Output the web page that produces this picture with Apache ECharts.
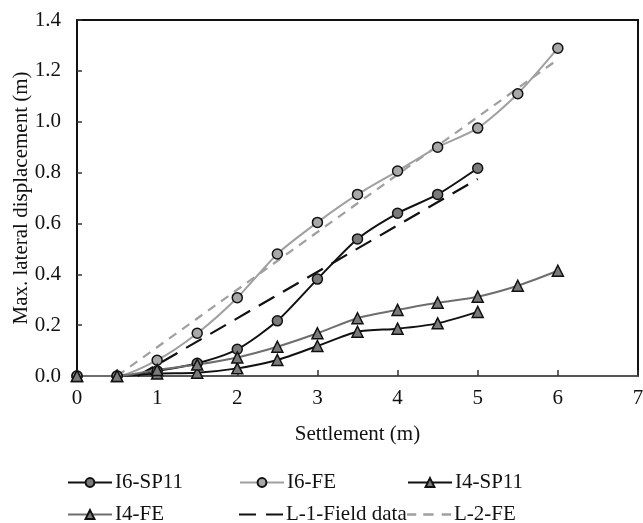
<!DOCTYPE html>
<html>
<head>
<meta charset="utf-8">
<script src="https://cdn.jsdelivr.net/npm/echarts@6/dist/echarts.min.js"></script>
<style>
  html, body { margin: 0; padding: 0; background: #fff; }
  #chart { width: 643px; height: 523px; }
</style>
</head>
<body>
<div id="chart"></div>
<script>
// Settlement values (m)
const settlementShort = [0, 0.5, 1, 1.5, 2, 2.5, 3, 3.5, 4, 4.5, 5];
const settlementLong = [0, 0.5, 1, 1.5, 2, 2.5, 3, 3.5, 4, 4.5, 5, 5.5, 6];

// Max. lateral displacement (m)
const i6Sp11 = [0, 0, 0.02, 0.05, 0.105, 0.217, 0.381, 0.539, 0.64, 0.714, 0.817];
const i6Fe = [0, 0, 0.062, 0.168, 0.308, 0.48, 0.604, 0.714, 0.806, 0.9, 0.975, 1.11, 1.289];
const i4Sp11 = [0, 0, 0.01, 0.013, 0.03, 0.063, 0.118, 0.174, 0.186, 0.207, 0.252];
const i4Fe = [0, 0, 0.024, 0.045, 0.073, 0.115, 0.168, 0.227, 0.26, 0.288, 0.312, 0.355, 0.414];

// Linear trend lines: [settlement, displacement] end points
const l1Field = [[0.757, 0], [5, 0.775]];
const l2Fe = [[0.5, 0], [6, 1.245]];

const seriesNames = ['I6-SP11', 'I6-FE', 'I4-SP11', 'I4-FE', 'L-1-Field data', 'L-2-FE'];

const FONT = 'Liberation Serif';
const pair = (xs, ys) => xs.map((x, i) => [x, ys[i]]);

function markerSeries(name, xs, ys, lineColor, fill, symbol) {
  return {
    name: name,
    type: 'line',
    data: pair(xs, ys),
    smooth: 0.25,
    symbol: symbol,
    symbolSize: symbol === 'circle' ? 10 : 11,
    lineStyle: { color: lineColor, width: 2 },
    itemStyle: { color: fill, borderColor: '#111', borderWidth: 1.5 },
    emphasis: { disabled: true },
    z: 3
  };
}

function trendSeries(name, pts, color, dash) {
  return {
    name: name,
    type: 'line',
    data: pts,
    symbol: 'none',
    lineStyle: { color: color, width: 2.2, type: dash },
    itemStyle: { color: color },
    emphasis: { disabled: true },
    z: 2
  };
}

// Legend icons for the dashed trend lines
const dashIcons = {
  'L-1-Field data': 'path://M0,0h17v2h-17z M27,0h17v2h-17z',
  'L-2-FE': 'path://M0,0h8v2h-8z M14,0h9v2h-9z M30,0h8v2h-8z'
};

// One legend block per entry, laid out in a 3 x 2 arrangement
const legendSlots = [
  { left: 62, top: 467 }, { left: 234, top: 467 }, { left: 402, top: 467 },
  { left: 62, top: 499 }, { left: 234, top: 499 }, { left: 402, top: 499 }
];
const legends = seriesNames.map((n, i) => {
  const icon = dashIcons[n];
  return {
    data: [icon ? { name: n, icon: icon } : n],
    left: legendSlots[i].left,
    top: legendSlots[i].top,
    itemWidth: 44,
    itemHeight: icon ? 2.5 : 11,
    itemGap: 0,
    textStyle: { fontFamily: FONT, fontSize: 21, color: '#111', padding: [0, 0, 0, -2] },
    selectedMode: false
  };
});

const chart = echarts.init(document.getElementById('chart'), null, { renderer: 'canvas' });
chart.setOption({
  animation: false,
  backgroundColor: '#fff',
  legend: legends,
  grid: {
    left: 77, top: 20, right: 5, bottom: 147,
    outerBoundsMode: 'none', containLabel: false,
    show: true, borderColor: '#111', borderWidth: 2, backgroundColor: 'transparent'
  },
  xAxis: {
    type: 'value', min: 0, max: 7, interval: 1,
    name: 'Settlement (m)', nameLocation: 'middle', nameGap: 48,
    nameMoveOverlap: false,
    nameTextStyle: { fontFamily: FONT, fontSize: 21, color: '#111' },
    axisLine: { show: true, onZero: false, lineStyle: { color: '#555', width: 2 } },
    axisTick: { show: true, inside: true, length: 6, lineStyle: { color: '#333', width: 1.5 } },
    axisLabel: { fontFamily: FONT, fontSize: 21, color: '#111', margin: 12 },
    splitLine: { show: false }
  },
  yAxis: {
    type: 'value', min: 0, max: 1.4, interval: 0.2,
    name: 'Max. lateral displacement (m)', nameLocation: 'middle', nameGap: 45,
    nameMoveOverlap: false,
    nameTextStyle: { fontFamily: FONT, fontSize: 21, color: '#111' },
    axisLine: { show: true, lineStyle: { color: '#111', width: 2 } },
    axisTick: { show: true, inside: true, length: 5, lineStyle: { color: '#333', width: 1.5 } },
    axisLabel: { fontFamily: FONT, fontSize: 21, color: '#111', margin: 16,
      formatter: v => v.toFixed(1) },
    splitLine: { show: false }
  },
  series: [
    markerSeries(seriesNames[0], settlementShort, i6Sp11, '#111', '#7a7a7a', 'circle'),
    markerSeries(seriesNames[1], settlementLong, i6Fe, '#a0a0a0', '#a8a8a8', 'circle'),
    markerSeries(seriesNames[2], settlementShort, i4Sp11, '#111', '#7a7a7a', 'triangle'),
    markerSeries(seriesNames[3], settlementLong, i4Fe, '#6e6e6e', '#7a7a7a', 'triangle'),
    trendSeries(seriesNames[4], l1Field, '#111', [18, 10]),
    trendSeries(seriesNames[5], l2Fe, '#a0a0a0', [9, 7])
  ]
});
</script>
</body>
</html>
